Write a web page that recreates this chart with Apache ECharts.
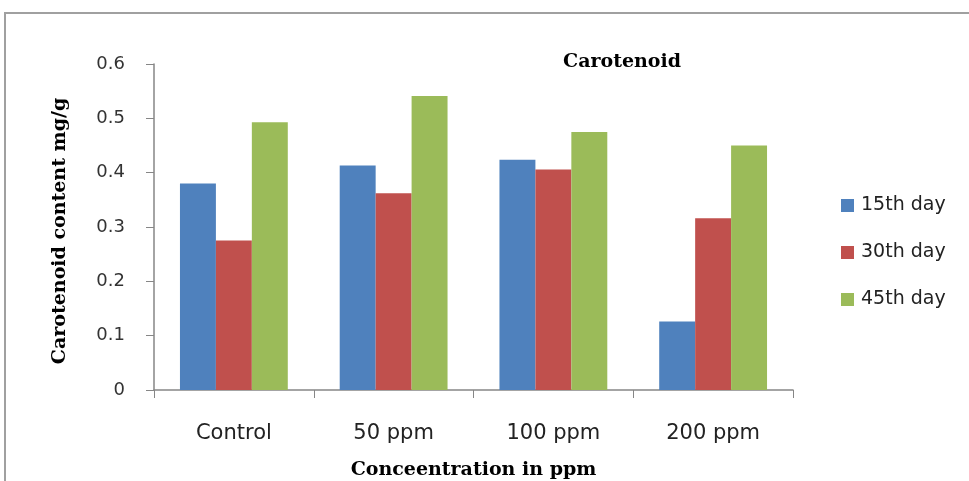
<!DOCTYPE html>
<html><head><meta charset="utf-8">
<script src="https://cdn.jsdelivr.net/npm/echarts@6/dist/echarts.min.js"></script>
<style>html,body{margin:0;padding:0;background:#fff}#c{width:969px;height:481px}</style>
</head><body><div id="c"></div>
<script>
const categories = ['Control', '50 ppm', '100 ppm', '200 ppm'];
const seriesNames = ['15th day', '30th day', '45th day'];
const day15 = [0.380, 0.413, 0.424, 0.126];
const day30 = [0.275, 0.362, 0.406, 0.316];
const day45 = [0.493, 0.541, 0.475, 0.450];
const colors = ['#4F81BD', '#C0504D', '#9BBB59'];

const chart = echarts.init(document.getElementById('c'), null, {renderer: 'canvas'});
const serif = '"DejaVu Serif", "Liberation Serif", serif';
const sans = '"DejaVu Sans", Verdana, sans-serif';
chart.setOption({
  animation: false,
  graphic: [{
    type: 'rect', shape: {x: 5, y: 13, width: 1000, height: 500},
    style: {fill: 'none', stroke: '#a0a0a0', lineWidth: 2}, silent: true
  }],
  title: {
    text: 'Carotenoid', left: 617, top: 48, textAlign: 'center',
    textStyle: {fontFamily: serif, fontWeight: 'bold', fontSize: 19, color: '#000'}
  },
  legend: {
    orient: 'vertical', left: 836, top: 191, itemGap: 28,
    itemWidth: 13, itemHeight: 13, icon: 'rect',
    textStyle: {fontFamily: sans, fontSize: 19, color: '#222', padding: [0, 0, 0, 2]},
    data: seriesNames
  },
  grid: {left: 154, top: 64, width: 639, height: 326, containLabel: false, outerBoundsMode: 'none'},
  xAxis: {
    type: 'category', data: categories,
    name: 'Conceentration in ppm', nameLocation: 'middle', nameGap: 71,
    nameTextStyle: {fontFamily: serif, fontWeight: 'bold', fontSize: 19, color: '#000'},
    axisLine: {lineStyle: {color: '#868686', width: 1.5}},
    axisTick: {show: true, length: 8, lineStyle: {color: '#868686'}},
    axisLabel: {fontFamily: sans, fontSize: 21, color: '#222', margin: 33}
  },
  yAxis: {
    type: 'value', min: 0, max: 0.6, interval: 0.1,
    name: 'Carotenoid content mg/g', nameLocation: 'middle', nameGap: 84, nameRotate: 90,
    nameTextStyle: {fontFamily: serif, fontWeight: 'bold', fontSize: 19, color: '#000', padding: [0, 8, 0, 0]},
    axisLine: {show: true, lineStyle: {color: '#868686', width: 1.5}},
    axisTick: {show: true, length: 8, lineStyle: {color: '#868686'}},
    splitLine: {show: false},
    axisLabel: {fontFamily: sans, fontSize: 18, color: '#333', margin: 29,
      formatter: v => (Math.round(v * 10) / 10).toString()}
  },
  series: [
    {name: seriesNames[0], type: 'bar', data: day15, itemStyle: {color: colors[0]}, barGap: '0%', barCategoryGap: '32.5%'},
    {name: seriesNames[1], type: 'bar', data: day30, itemStyle: {color: colors[1]}},
    {name: seriesNames[2], type: 'bar', data: day45, itemStyle: {color: colors[2]}}
  ]
});
</script></body></html>
